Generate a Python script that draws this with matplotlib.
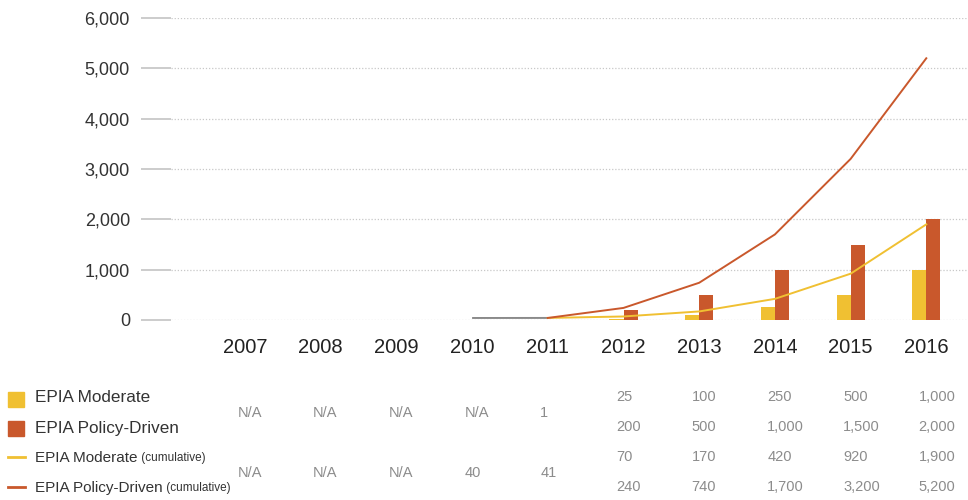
import numpy as np
import matplotlib
matplotlib.use("Agg")
import matplotlib.pyplot as plt
import matplotlib.patches as mpatches
import matplotlib.lines as mlines
from matplotlib.transforms import blended_transform_factory

plt.rcParams['font.family'] = ['Liberation Sans', 'DejaVu Sans']

years = ['2007', '2008', '2009', '2010', '2011', '2012', '2013', '2014', '2015', '2016']
nan = np.nan
moderate = [nan, nan, nan, nan, 1, 25, 100, 250, 500, 1000]
policy = [nan, nan, nan, nan, 1, 200, 500, 1000, 1500, 2000]
moderate_cum = [nan, nan, nan, 40, 41, 70, 170, 420, 920, 1900]
policy_cum = [nan, nan, nan, 40, 41, 240, 740, 1700, 3200, 5200]

yellow = '#F0C032'
orange = '#C9582C'
shared_gray = '#8a8a8a'

W, H = 968, 500
fig = plt.figure(figsize=(W / 100, H / 100), dpi=100)
ax = fig.add_axes([171 / W, 1 - 320 / H, (W - 171) / W, (320 - 18) / H])

x = np.arange(len(years))
bw = 0.185
ax.bar(x - bw / 2, moderate, width=bw, color=yellow, zorder=3)
ax.bar(x + bw / 2, policy, width=bw, color=orange, zorder=3)

# years where both cumulative series are the same -> one grey segment
mc = np.array(moderate_cum, dtype=float)
pc = np.array(policy_cum, dtype=float)
same = np.where(mc == pc)[0]
ax.plot(x[same], mc[same], color=shared_gray, lw=1.4, zorder=4, solid_capstyle='butt')
start = same.max()
ax.plot(x[start:], mc[start:], color=yellow, lw=1.4, zorder=5)
ax.plot(x[start:], pc[start:], color=orange, lw=1.4, zorder=5)

ax.set_xlim((171 - 245) / 75.7, (968 - 245) / 75.7)
ax.set_ylim(0, 6000)
ax.set_yticks(range(0, 6001, 1000))
ax.set_yticklabels([f"{v:,}" for v in range(0, 6001, 1000)], fontsize=13, color='#333333')
ax.tick_params(axis='y', length=21.6, width=1.2, color='#c4c4c4', pad=8)
ax.set_xticks(x)
ax.set_xticklabels(years, fontsize=14.5, color='#222222')
ax.tick_params(axis='x', length=0, pad=13)
ax.yaxis.grid(True, linestyle=(0, (1, 1.5)), color='#c8c8c8', lw=0.9, zorder=0)
for s in ax.spines.values():
    s.set_visible(False)


def fy(py):
    return 1 - py / H


# data table under the axis
tr = blended_transform_factory(ax.transData, fig.transFigure)
rows = [(moderate, policy, 397, 427), (moderate_cum, policy_cum, 457, 487)]
val_style = dict(fontsize=10.5, color='#8c8c8c', ha='left', va='center', transform=tr)


def fmt(v):
    return 'N/A' if np.isnan(v) else f"{v:,.0f}"


for a, b, ya, yb in rows:
    for i in range(len(years)):
        va_, vb_ = a[i], b[i]
        if (np.isnan(va_) and np.isnan(vb_)) or va_ == vb_:
            fig.text(i - 0.1, fy((ya + yb) / 2 + 1), fmt(va_), **val_style)
        else:
            fig.text(i - 0.1, fy(ya), fmt(va_), **val_style)
            fig.text(i - 0.1, fy(yb), fmt(vb_), **val_style)

# legend column on the left
fig.add_artist(mpatches.Rectangle((8 / W, fy(407)), 16 / W, 15 / H,
                                  transform=fig.transFigure, color=yellow))
fig.add_artist(mpatches.Rectangle((8 / W, fy(436)), 16 / W, 15 / H,
                                  transform=fig.transFigure, color=orange))
fig.add_artist(mlines.Line2D([8 / W, 25 / W], [fy(457), fy(457)],
                             transform=fig.transFigure, color=yellow, lw=2))
fig.add_artist(mlines.Line2D([8 / W, 25 / W], [fy(487), fy(487)],
                             transform=fig.transFigure, color=orange, lw=2))

lab_style = dict(color='#333333', ha='left', va='center')
fig.text(35 / W, fy(397), 'EPIA Moderate', fontsize=12.3, **lab_style)
fig.text(35 / W, fy(428), 'EPIA Policy-Driven', fontsize=12.3, **lab_style)
for name, py in [('EPIA Moderate', 458), ('EPIA Policy-Driven', 488)]:
    t = fig.text(35 / W, fy(py), name, fontsize=11, **lab_style)
    ax.annotate(' (cumulative)', xy=(1, 0), xycoords=t, xytext=(0, 1),
                textcoords='offset points', fontsize=8.5, color='#333333',
                ha='left', va='bottom', annotation_clip=False)

fig.savefig('out.png', dpi=100)
